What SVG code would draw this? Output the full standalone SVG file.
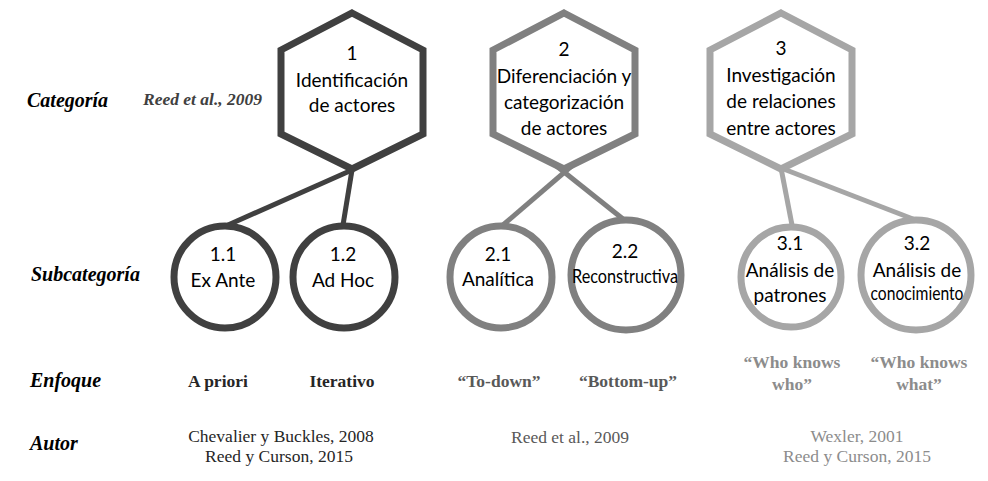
<svg xmlns="http://www.w3.org/2000/svg" width="988" height="481" viewBox="0 0 988 481">
<style>
.lbl{font-family:"Liberation Serif","Times New Roman",serif;font-weight:bold;font-style:italic;font-size:20px;fill:#000}
.ref{font-family:"Liberation Serif","Times New Roman",serif;font-weight:bold;font-style:italic;font-size:17.5px;fill:#404040}
.enf{font-family:"Liberation Serif","Times New Roman",serif;font-weight:bold;font-size:17.5px;text-anchor:middle}
.aut{font-family:"Liberation Serif","Times New Roman",serif;font-size:17.5px;text-anchor:middle}
.nt{font-family:Lato,"Open Sans",sans-serif;font-size:19px;fill:#000;text-anchor:middle}
.g1{stroke:#404040}
.g2{stroke:#808080}
.g3{stroke:#a6a6a6}
.hex{fill:#fff;stroke-width:7;stroke-linejoin:miter}
.circ{fill:#fff;stroke-width:7}
.con{fill:none;stroke-width:5}
.c1{fill:#262626}
.c2{fill:#595959}
.c3{fill:#8c8c8c}
</style>
<rect width="988" height="481" fill="#fff"/>

<g id="row-labels">
<text class="lbl" x="27" y="107">Categoría</text>
<text class="ref" x="143" y="105">Reed et al., 2009</text>
<text class="lbl" x="31" y="281">Subcategoría</text>
<text class="lbl" x="30" y="387">Enfoque</text>
<text class="lbl" x="30" y="450">Autor</text>
</g>

<g id="connectors">
<line class="con g1" x1="352" y1="170" x2="228" y2="225"/>
<line class="con g1" x1="352" y1="170" x2="343" y2="225"/>
<line class="con g2" x1="574" y1="164" x2="503" y2="225"/>
<line class="con g2" x1="554" y1="164" x2="623" y2="219"/>
<line class="con g3" x1="781" y1="168" x2="792" y2="225"/>
<line class="con g3" x1="781" y1="168" x2="913" y2="219"/>
</g>

<g id="hex1">
<polygon class="hex g1" points="352,13 423,50 423,134 352,169 281,134 281,50"/>
<text class="nt" x="352" y="60">1</text>
<text class="nt" x="352" y="87">Identificación</text>
<text class="nt" x="352" y="112">de actores</text>
</g>
<g id="hex2">
<polygon class="hex g2" points="564,13 635,50 635,134 564,169 493,134 493,50"/>
<text class="nt" x="564" y="56">2</text>
<text class="nt" x="564" y="83">Diferenciación y</text>
<text class="nt" x="564" y="109">categorización</text>
<text class="nt" x="564" y="135">de actores</text>
</g>
<g id="hex3">
<polygon class="hex g3" points="781,13 852,50 852,134 781,169 710,134 710,50"/>
<text class="nt" x="781" y="55">3</text>
<text class="nt" x="781" y="82">Investigación</text>
<text class="nt" x="781" y="108">de relaciones</text>
<text class="nt" x="781" y="135">entre actores</text>
</g>

<g id="sub1-1">
<circle class="circ g1" cx="225" cy="277" r="51"/>
<text class="nt" x="223" y="261">1.1</text>
<text class="nt" x="223" y="287">Ex Ante</text>
</g>
<g id="sub1-2">
<circle class="circ g1" cx="344" cy="277" r="51"/>
<text class="nt" x="343" y="261">1.2</text>
<text class="nt" x="343" y="287">Ad Hoc</text>
</g>
<g id="sub2-1">
<circle class="circ g2" cx="501" cy="277" r="51"/>
<text class="nt" x="498" y="261">2.1</text>
<text class="nt" x="498" y="286">Analítica</text>
</g>
<g id="sub2-2">
<circle class="circ g2" cx="626" cy="275" r="55"/>
<text class="nt" x="625" y="258">2.2</text>
<text class="nt" x="625" y="283" textLength="106" lengthAdjust="spacingAndGlyphs">Reconstructiva</text>
</g>
<g id="sub3-1">
<circle class="circ g3" cx="791" cy="277" r="50"/>
<text class="nt" x="790" y="250">3.1</text>
<text class="nt" x="790" y="277">Análisis de</text>
<text class="nt" x="790" y="302">patrones</text>
</g>
<g id="sub3-2">
<circle class="circ g3" cx="916" cy="275" r="55"/>
<text class="nt" x="917" y="250">3.2</text>
<text class="nt" x="917" y="277">Análisis de</text>
<text class="nt" x="917" y="300" textLength="93" lengthAdjust="spacingAndGlyphs">conocimiento</text>
</g>

<g id="enfoque">
<text class="enf c1" x="218" y="387">A priori</text>
<text class="enf c1" x="342" y="387">Iterativo</text>
<text class="enf c2" x="499" y="387">“To-down”</text>
<text class="enf c2" x="628" y="387">“Bottom-up”</text>
<text class="enf c3" x="792" y="368">“Who knows</text>
<text class="enf c3" x="792" y="390">who”</text>
<text class="enf c3" x="919" y="368">“Who knows</text>
<text class="enf c3" x="919" y="390">what”</text>
</g>

<g id="autor">
<text class="aut c1" x="281" y="442">Chevalier y Buckles, 2008</text>
<text class="aut c1" x="279" y="462">Reed y Curson, 2015</text>
<text class="aut c2" x="570" y="443">Reed et al., 2009</text>
<text class="aut c3" x="857" y="442">Wexler, 2001</text>
<text class="aut c3" x="857" y="462">Reed y Curson, 2015</text>
</g>
</svg>
